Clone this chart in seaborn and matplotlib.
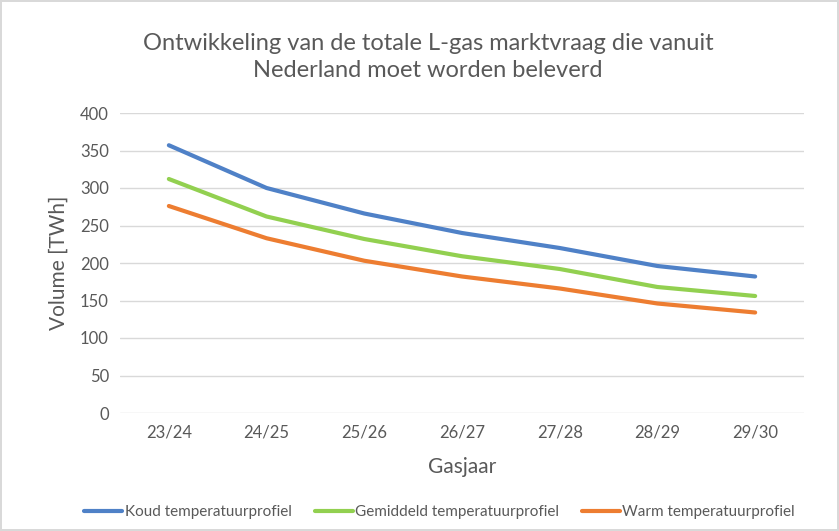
import pandas as pd
import matplotlib.pyplot as plt
import seaborn as sns

gasjaren = ['23/24', '24/25', '25/26', '26/27', '27/28', '28/29', '29/30']
koud = [357, 300, 266, 240, 220, 196, 182]
gemiddeld = [312, 262, 232, 209, 192, 168, 156]
warm = [276, 233, 203, 182, 166, 146, 134]

namen = ['Koud temperatuurprofiel', 'Gemiddeld temperatuurprofiel', 'Warm temperatuurprofiel']
kleuren = ['#4F81C7', '#92D050', '#ED7D31']

tabela = pd.DataFrame({'Gasjaar': gasjaren, namen[0]: koud, namen[1]: gemiddeld, namen[2]: warm})
tabela_lang = tabela.melt(id_vars='Gasjaar', var_name='profiel', value_name='volume')

sns.set_style('white')
plt.rcParams['font.family'] = ['Lato', 'DejaVu Sans']

fig = plt.figure(figsize=(8.39, 5.31), dpi=100)
fig.patch.set_edgecolor('#D9D9D9')
fig.patch.set_linewidth(1.5)
ax = fig.add_axes([120 / 839, 1 - 413 / 531, 684 / 839, 300 / 531])

sns.lineplot(data=tabela_lang, x='Gasjaar', y='volume', hue='profiel', palette=kleuren,
             linewidth=3, sort=False, ax=ax, legend=False)

ax.set_ylim(0, 400)
ax.set_xlim(-0.5, 6.5)
ax.set_yticks(range(0, 401, 50))
ax.yaxis.grid(True, color='#D9D9D9', linewidth=1)
ax.set_axisbelow(True)
for s in ax.spines.values():
    s.set_visible(False)
ax.tick_params(axis='both', length=0, labelsize=12, labelcolor='#595959', pad=8)
ax.set_xlabel('Gasjaar', fontsize=15, color='#595959', labelpad=12)
ax.set_ylabel('Volume [TWh]', fontsize=15, color='#595959', labelpad=8)

fig.text(0.51, 0.893, 'Ontwikkeling van de totale L-gas marktvraag die vanuit\nNederland moet worden beleverd',
         ha='center', va='center', fontsize=17, color='#595959', linespacing=1.35)

handles = [plt.Line2D([], [], color=c, linewidth=3) for c in kleuren]
fig.legend(handles, namen, loc='center', bbox_to_anchor=(0.524, 0.035), ncol=3, frameon=False,
           fontsize=11, handlelength=2.5, handletextpad=0.15, columnspacing=1.5, labelcolor='#595959')

fig.savefig('out.png', dpi=100)
